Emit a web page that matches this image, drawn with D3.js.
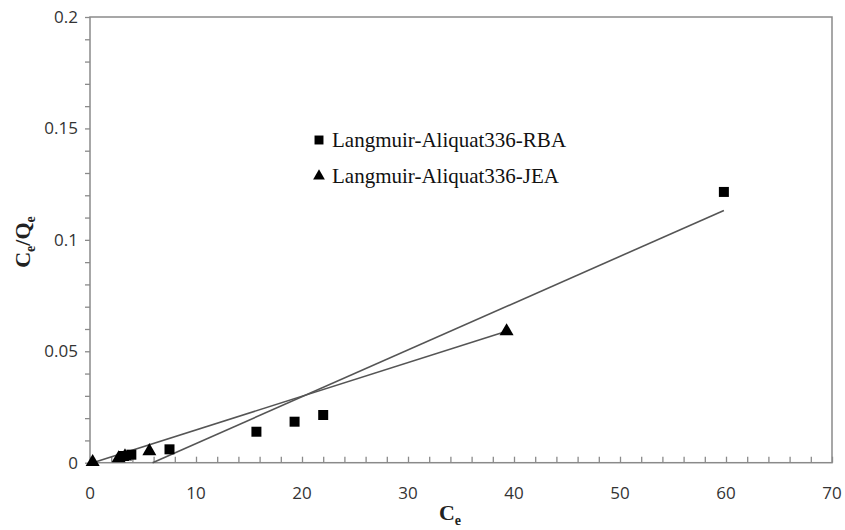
<!DOCTYPE html>
<html><head><meta charset="utf-8">
<script src="https://cdn.jsdelivr.net/npm/d3@7"></script>
<style>body{margin:0;background:#fff}</style>
</head><body><svg id="c" width="845" height="530"></svg>
<script>
const rbaX = [3.2, 3.9, 7.5, 15.7, 19.3, 22.0, 59.8];
const rbaY = [0.0030, 0.0036, 0.0060, 0.0139, 0.0184, 0.0214, 0.1215];
const jeaX = [0.25, 2.7, 3.3, 5.6, 39.3];
const jeaY = [0.0003, 0.0020, 0.0028, 0.0052, 0.0590];
// linear fits (slope, intercept, x-end)
const rbaFit = {slope: 0.00210, intercept: -0.0124, xEnd: 59.8};
const jeaFit = {slope: 0.00151, intercept: -0.0004, xEnd: 39.3};
const xTicks = [0,10,20,30,40,50,60,70];
const yTicks = [0,0.05,0.1,0.15,0.2];
const legendLabels = ["Langmuir-Aliquat336-RBA","Langmuir-Aliquat336-JEA"];

const svg = d3.select("#c");
const L=90, R=832, T=17, B=462.7;
const x = d3.scaleLinear().domain([0,70]).range([L,R]);
const y = d3.scaleLinear().domain([0,0.2]).range([B,T]);
const axisCol = "#8a8a8a";

// frame
svg.append("rect").attr("x",L).attr("y",T).attr("width",R-L).attr("height",B-T)
  .attr("fill","none").attr("stroke",axisCol).attr("stroke-width",1.5);

// x minor ticks (inward)
const xg = svg.append("g").attr("transform",`translate(0,${B})`)
  .call(d3.axisTop(x).tickValues(d3.range(0,71,2)).tickSize(6).tickFormat(""));
xg.select(".domain").remove();
xg.selectAll("line").attr("stroke",axisCol).attr("stroke-width",1.3);
// x labels
svg.append("g").selectAll("text").data(xTicks).join("text")
  .attr("x",d=>x(d)).attr("y",B+36).attr("text-anchor","middle")
  .attr("font-family","Open Sans, sans-serif").attr("font-size",17).attr("fill","#333")
  .text(d=>d);

// y ticks (outward)
const yg = svg.append("g").attr("transform",`translate(${L},0)`)
  .call(d3.axisLeft(y).tickValues(d3.range(0,21).map(i=>i*0.01)).tickSize(5).tickFormat(""));
yg.select(".domain").remove();
yg.selectAll("line").attr("stroke",axisCol).attr("stroke-width",1.3);
svg.append("g").selectAll("text").data(yTicks).join("text")
  .attr("x",L-12).attr("y",d=>y(d)+6).attr("text-anchor","end")
  .attr("font-family","Open Sans, sans-serif").attr("font-size",17).attr("fill","#333")
  .text(d=>d);

// fit lines
function fitLine(f){
  const x0 = Math.max(0, -f.intercept/f.slope);
  return [[x0, f.slope*x0+f.intercept],[f.xEnd, f.slope*f.xEnd+f.intercept]];
}
const line = d3.line().x(d=>x(d[0])).y(d=>y(d[1]));
[rbaFit, jeaFit].forEach(f=>{
  svg.append("path").attr("d",line(fitLine(f))).attr("fill","none")
    .attr("stroke","#555").attr("stroke-width",1.6);
});

// markers
const sq = d3.symbol().type(d3.symbolSquare).size(100);
const tri = d3.symbol().type(d3.symbolTriangle).size(85);
svg.append("g").selectAll("path").data(rbaX.map((v,i)=>[v,rbaY[i]])).join("path")
  .attr("d",sq).attr("transform",d=>`translate(${x(d[0])},${y(d[1])})`).attr("fill","#000");
svg.append("g").selectAll("path").data(jeaX.map((v,i)=>[v,jeaY[i]])).join("path")
  .attr("d",tri).attr("transform",d=>`translate(${x(d[0])},${y(d[1])})`).attr("fill","#000");

// legend
const lg = svg.append("g");
lg.append("path").attr("d",d3.symbol().type(d3.symbolSquare).size(80)).attr("transform","translate(319,140)").attr("fill","#000");
lg.append("path").attr("d",d3.symbol().type(d3.symbolTriangle).size(60)).attr("transform","translate(319,176)").attr("fill","#000");
legendLabels.forEach((t,i)=>{
  lg.append("text").attr("x",332).attr("y",147+i*36)
    .attr("font-family","Liberation Serif, Times New Roman, serif").attr("font-size",21).attr("fill","#111").text(t);
});

// axis titles
const xt = svg.append("text").attr("x",450).attr("y",520).attr("text-anchor","middle")
  .attr("font-family","Liberation Serif, serif").attr("font-weight","bold").attr("font-size",22).attr("fill","#222");
xt.append("tspan").text("C");
xt.append("tspan").attr("dy",5).attr("font-size",14).text("e");

const yt = svg.append("text").attr("transform","translate(30,242) rotate(-90)").attr("text-anchor","middle")
  .attr("font-family","Liberation Serif, serif").attr("font-weight","bold").attr("font-size",22).attr("fill","#222");
yt.append("tspan").text("C");
yt.append("tspan").attr("dy",5).attr("font-size",14).text("e");
yt.append("tspan").attr("dy",-5).text("/Q");
yt.append("tspan").attr("dy",5).attr("font-size",14).text("e");
</script></body></html>
